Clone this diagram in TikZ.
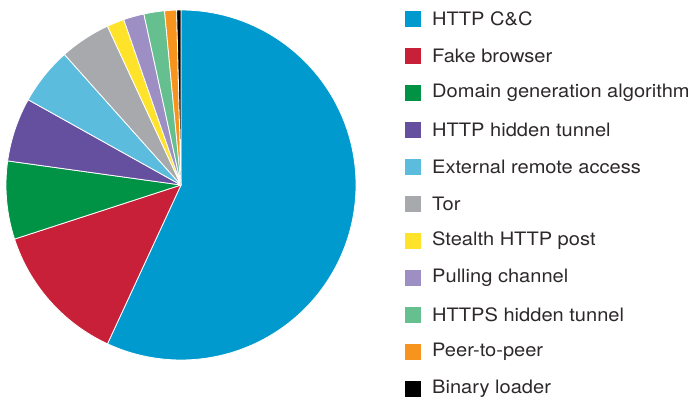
\documentclass[tikz,border=0pt]{standalone}
\usepackage{fontspec}
\setmainfont{TeX Gyre Heros}[FakeStretch=1.085]
\usetikzlibrary{positioning}

\definecolor{httpcc}{RGB}{0,154,206}
\definecolor{fakebr}{RGB}{200,32,56}
\definecolor{domgen}{RGB}{0,146,69}
\definecolor{httphid}{RGB}{101,80,160}
\definecolor{extrem}{RGB}{91,188,221}
\definecolor{torgray}{RGB}{167,169,172}
\definecolor{stealth}{RGB}{255,227,42}
\definecolor{pulling}{RGB}{157,143,196}
\definecolor{httpshid}{RGB}{102,191,143}
\definecolor{peer}{RGB}{247,148,29}
\definecolor{binload}{RGB}{0,0,0}
\definecolor{legtxt}{RGB}{45,41,42}

\tikzset{
  slice/.style={draw=white, line width=0.8bp, line join=round},
  legbox/.style={minimum size=16bp, inner sep=0pt, outer sep=0pt},
  legtext/.style={anchor=west, inner sep=0pt, text=legtxt, font=\fontsize{18.5bp}{20bp}\selectfont}
}

\begin{document}
\begin{tikzpicture}[x=1bp, y=1bp]
    \useasboundingbox (0, 0) rectangle (692, 400);
    \coordinate (c) at (181, 215);

    % pie, clockwise from the top
    \filldraw[slice, fill=httpcc] (c) -- ++(90:175bp) arc[start angle=90, end angle=-114.84, radius=175bp] -- cycle;
    \filldraw[slice, fill=fakebr] (c) -- ++(-114.84:175bp) arc[start angle=-114.84, end angle=-162, radius=175bp] -- cycle;
    \filldraw[slice, fill=domgen] (c) -- ++(-162:175bp) arc[start angle=-162, end angle=-187.92, radius=175bp] -- cycle;
    \filldraw[slice, fill=httphid] (c) -- ++(-187.92:175bp) arc[start angle=-187.92, end angle=-209.16, radius=175bp] -- cycle;
    \filldraw[slice, fill=extrem] (c) -- ++(-209.16:175bp) arc[start angle=-209.16, end angle=-228.24, radius=175bp] -- cycle;
    \filldraw[slice, fill=torgray] (c) -- ++(-228.24:175bp) arc[start angle=-228.24, end angle=-245.16, radius=175bp] -- cycle;
    \filldraw[slice, fill=stealth] (c) -- ++(-245.16:175bp) arc[start angle=-245.16, end angle=-250.92, radius=175bp] -- cycle;
    \filldraw[slice, fill=pulling] (c) -- ++(-250.92:175bp) arc[start angle=-250.92, end angle=-257.76, radius=175bp] -- cycle;
    \filldraw[slice, fill=httpshid] (c) -- ++(-257.76:175bp) arc[start angle=-257.76, end angle=-264.6, radius=175bp] -- cycle;
    \filldraw[slice, fill=peer] (c) -- ++(-264.6:175bp) arc[start angle=-264.6, end angle=-268.56, radius=175bp] -- cycle;
    \filldraw[slice, fill=binload] (c) -- ++(-268.56:175bp) arc[start angle=-268.56, end angle=-270, radius=175bp] -- cycle;

    % legend
    \node[legbox, fill=httpcc] (sq1) at (413, 381) {};
    \node[legbox, fill=fakebr] (sq2) at (413, 344) {};
    \node[legbox, fill=domgen] (sq3) at (413, 307) {};
    \node[legbox, fill=httphid] (sq4) at (413, 270) {};
    \node[legbox, fill=extrem] (sq5) at (413, 233) {};
    \node[legbox, fill=torgray] (sq6) at (413, 196) {};
    \node[legbox, fill=stealth] (sq7) at (413, 159) {};
    \node[legbox, fill=pulling] (sq8) at (413, 122) {};
    \node[legbox, fill=httpshid] (sq9) at (413, 85) {};
    \node[legbox, fill=peer] (sq10) at (413, 48) {};
    \node[legbox, fill=binload] (sq11) at (413, 11) {};

    \node[legtext, right=11bp of sq1] (lb1) {HTTP C\&C};
    \node[legtext, right=11bp of sq2] (lb2) {Fake browser};
    \node[legtext, right=11bp of sq3] (lb3) {Domain generation algorithm};
    \node[legtext, right=11bp of sq4] (lb4) {HTTP hidden tunnel};
    \node[legtext, right=11bp of sq5] (lb5) {External remote access};
    \node[legtext, right=11bp of sq6] (lb6) {Tor};
    \node[legtext, right=11bp of sq7] (lb7) {Stealth HTTP post};
    \node[legtext, right=11bp of sq8] (lb8) {Pulling channel};
    \node[legtext, right=11bp of sq9] (lb9) {HTTPS hidden tunnel};
    \node[legtext, right=11bp of sq10] (lb10) {Peer-to-peer};
    \node[legtext, right=11bp of sq11] (lb11) {Binary loader};
\end{tikzpicture}
\end{document}
